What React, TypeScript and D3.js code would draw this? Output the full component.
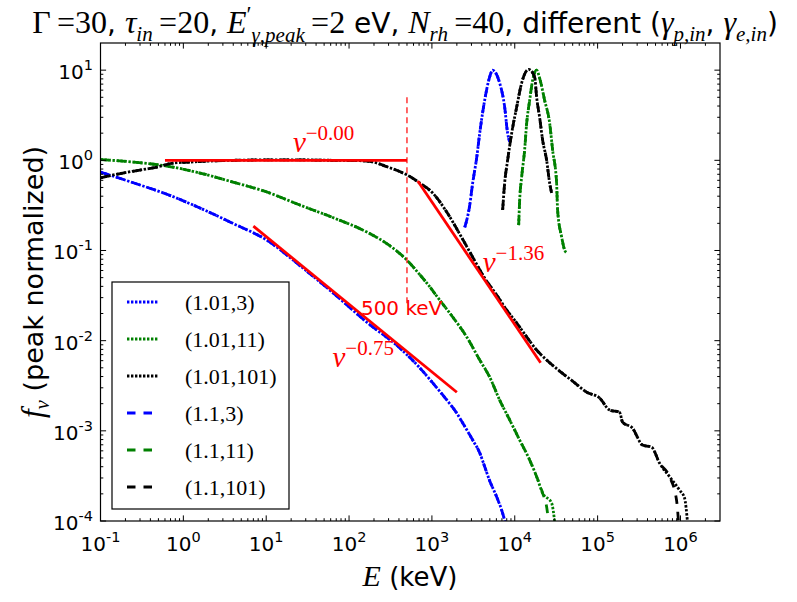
import React from 'react';
import * as d3 from 'd3';

type Pt = [number, number];

// ---------- data (E in keV, f_nu peak normalized) ----------
const blueCont: Pt[] = [[0.1,0.74],[0.254,0.56],[0.634,0.42],[1.585,0.296],[3.96,0.20],[10.2,0.13],[25.5,0.068],[63.7,0.034],[164,0.0160],[409,0.0083],[713,0.0050],[1023,0.0034],[1510,0.0022],[1995,0.00157],[2355,0.00122],[3105,0.00079],[3776,0.00057],[4335,0.0004],[4977,0.00028],[6053,0.000185],[6950,0.000132],[7770,0.000093]];
const bluePeak: Pt[] = [[2490,0.18],[2864,0.32],[3105,0.56],[3467,1.06],[3776,2.0],[4335,4.65],[4977,8.4],[5410,10.0],[5890,9.3],[6577,7.2],[7550,3.9],[8200,2.0],[8690,1.6]];

const greenCont: Pt[] = [[0.1,1.02],[0.247,0.957],[0.634,0.863],[1.585,0.723],[3.96,0.574],[10.2,0.445],[25.5,0.319],[63.7,0.232],[164,0.160],[310,0.113],[497,0.0784],[713,0.054],[867,0.0436],[1242,0.0282],[1782,0.0183],[2630,0.011],[3776,0.0061],[4977,0.00395],[6577,0.00219],[8690,0.00132],[11460,0.00079],[15140,0.000474],[18370,0.00031],[21680,0.000204]];
const greenTailDotted: Pt[] = [[27860,0.000158],[30340,0.000098]];
const greenTailDashed: Pt[] = [[24260,0.000143],[25650,0.000097]];
const greenPeak: Pt[] = [[11150,0.191],[11460,0.362],[12110,0.652],[13150,1.3],[13930,2.59],[15140,4.65],[16440,7.76],[18370,10.0],[19950,8.17],[22910,4.65],[26360,2.59],[28640,1.3],[31990,0.56],[32890,0.281],[36810,0.141],[40000,0.101],[42270,0.094]];

const blackCont: Pt[] = [[0.1,0.64],[0.187,0.723],[0.299,0.78],[0.48,0.842],[0.748,0.932],[1.2,0.957],[2.09,0.981],[3.96,1.0],[10.2,1.01],[25.5,1.01],[63.7,1.0],[135,0.99],[193,0.96],[285,0.85],[409,0.75],[497,0.69],[713,0.56],[1023,0.434],[1510,0.267],[2168,0.152],[3105,0.0845],[4335,0.0494],[6053,0.0321],[8000,0.0218],[10550,0.0157],[13930,0.011],[18370,0.00787],[24260,0.0061],[34760,0.0046],[49900,0.00356],[73600,0.00269],[105700,0.00231],[139600,0.0017],[184000,0.00161],[200000,0.00125],[264000,0.00107],[348000,0.000695],[448000,0.00066],[558000,0.00044],[738000,0.00031]];
const blackTailDotted: Pt[] = [[975000,0.00022],[1120000,0.00018],[1216000,0.000097]];
const blackTailDashed: Pt[] = [[897000,0.00017],[948000,0.000097]];
const blackPeak: Pt[] = [[7145,0.281],[7550,0.56],[8200,1.0],[9180,2.0],[10550,3.9],[12110,7.2],[13520,9.5],[14720,10.2],[17380,8.4],[18370,5.0],[19950,3.0],[21680,1.68],[24260,1.0],[26360,0.56],[27860,0.434]];

const legendLabels = ['(1.01,3)', '(1.01,11)', '(1.01,101)', '(1.1,3)', '(1.1,11)', '(1.1,101)'];
const seriesColors = ['#0000ff', '#008000', '#000000', '#0000ff', '#008000', '#000000'];

// power-law fits: [E start, E end, f at E start, index]
const fitStartE = [0.6, 675, 7];
const fitEndE = [500, 20500, 2000];
const fitStartF = [1.0, 0.589, 0.186];
const fitIndex = [-0.0, -1.36, -0.75];
const fitLabels = ['\u22120.00', '\u22121.36', '\u22120.75'];
const fitLabelE = [21, 4100, 63];
const fitLabelF = [1.24, 0.0577, 0.0051];

const markE = 500;
const markTopF = 5;
const markBottomF = 0.025;
const markLabel = '500 keV';
const markLabelE = 139;
const markLabelF = 0.0192;

const xTickExps = [-1, 0, 1, 2, 3, 4, 5, 6];
const yTickExps = [-4, -3, -2, -1, 0, 1];

// ---------- layout ----------
const W = 797, H = 602;
const PL = 100.5, PR = 720, PT = 43, PB = 521;
const SANS = "'DejaVu Sans', sans-serif";
const SERIF = "'Liberation Serif', 'Times New Roman', serif";

type Tok = { t: string; serif?: boolean; it?: boolean; s: number; sh?: number; dx?: number };

function Rich({ x, y, anchor, toks, fill = '#000', transform }: { x: number; y: number; anchor: string; toks: Tok[]; fill?: string; transform?: string }) {
  let prev = 0;
  return (
    <text x={x} y={y} textAnchor={anchor} fill={fill} transform={transform} style={{ whiteSpace: 'pre' }}>
      {toks.map((tk, i) => {
        const sh = tk.sh || 0;
        const dy = sh - prev;
        prev = sh;
        return (
          <tspan key={i} dy={dy} dx={tk.dx || 0} fontFamily={tk.serif ? SERIF : SANS} fontStyle={tk.it ? 'italic' : 'normal'} fontSize={tk.s}>
            {tk.t}
          </tspan>
        );
      })}
    </text>
  );
}

export default function App() {
  const x = d3.scaleLog().domain([0.1, 3e6]).range([PL, PR]);
  const y = d3.scaleLog().domain([1e-4, 20]).range([PB, PT]);
  const line = d3.line<Pt>().x(d => x(d[0])).y(d => y(d[1])).curve(d3.curveMonotoneX);

  const series = [
    { segs: [blueCont, bluePeak], dash: '2.4,1.6' },
    { segs: [greenCont.concat(greenTailDotted), greenPeak], dash: '2.4,1.6' },
    { segs: [blackCont.concat(blackTailDotted), blackPeak], dash: '2.4,1.6' },
    { segs: [blueCont, bluePeak], dash: '8.5,8' },
    { segs: [greenCont.concat(greenTailDashed), greenPeak], dash: '8.5,8' },
    { segs: [blackCont.concat(blackTailDashed), blackPeak], dash: '8.5,8' },
  ];

  const [xmin, xmax] = x.domain();
  const [ymin, ymax] = y.domain();
  const xMinor: number[] = [];
  for (let k = -1; k <= 6; k++) for (let m = 2; m <= 9; m++) { const v = m * Math.pow(10, k); if (v > xmin && v < xmax) xMinor.push(v); }
  const yMinor: number[] = [];
  for (let k = -4; k <= 1; k++) for (let m = 2; m <= 9; m++) { const v = m * Math.pow(10, k); if (v > ymin && v < ymax) yMinor.push(v); }

  const MAJ = 5.6, MIN = 2.8;

  const TS = 28, TM = 32, TB = 21;
  const title: Tok[] = [
    { t: '\u0393', serif: true, s: TM },
    { t: '\u2009=30', serif: true, s: TM },
    { t: ', ', s: TS },
    { t: '\u03c4', serif: true, it: true, s: TM },
    { t: 'in', serif: true, it: true, s: TB, sh: 8 },
    { t: '\u2009=20', serif: true, s: TM },
    { t: ', ', s: TS },
    { t: 'E', serif: true, it: true, s: TM },
    { t: '\u2032', serif: true, s: 23, sh: -11 },
    { t: '\u03b3,peak', serif: true, it: true, s: TB, sh: 9 },
    { t: '\u2009=2', serif: true, s: TM },
    { t: ' eV, ', s: TS },
    { t: 'N', serif: true, it: true, s: TM },
    { t: 'rh', serif: true, it: true, s: TB, sh: 8 },
    { t: '\u2009=40', serif: true, s: TM },
    { t: ', different (', s: TS },
    { t: '\u03b3', serif: true, it: true, s: TM },
    { t: 'p,in', serif: true, it: true, s: TB, sh: 8 },
    { t: ', ', s: TS },
    { t: '\u03b3', serif: true, it: true, s: TM },
    { t: 'e,in', serif: true, it: true, s: TB, sh: 8 },
    { t: ')', s: TS },
  ];

  const legX = 112, legY = 282, legW = 177, legH = 227, rowH = 37, row0 = 302;

  return (
    <svg width={W} height={H} style={{ position: 'absolute', left: 0, top: 0, background: '#fff' }}>
      <rect x={0} y={0} width={W} height={H} fill="#fff" />
      <defs>
        <clipPath id="plotclip"><rect x={PL} y={PT} width={PR - PL} height={PB - PT} /></clipPath>
      </defs>

      <g clipPath="url(#plotclip)">
        {series.map((s, i) => s.segs.map((seg, j) => (
          <path key={`${i}-${j}`} d={line(seg) || ''} fill="none" stroke={seriesColors[i]} strokeWidth={2.8} strokeDasharray={s.dash} />
        )))}
        {fitStartE.map((e0, i) => {
          const pts: Pt[] = [[e0, fitStartF[i]], [fitEndE[i], fitStartF[i] * Math.pow(fitEndE[i] / e0, fitIndex[i])]];
          return <path key={`fit${i}`} d={d3.line<Pt>().x(d => x(d[0])).y(d => y(d[1]))(pts) || ''} stroke="#ff0000" strokeWidth={2.8} fill="none" />;
        })}
        <line x1={x(markE)} x2={x(markE)} y1={y(markTopF)} y2={y(markBottomF)} stroke="#ff0000" strokeWidth={1.2} strokeDasharray="6,4" />
      </g>

      {fitLabels.map((lab, i) => (
        <Rich key={`fl${i}`} x={x(fitLabelE[i])} y={y(fitLabelF[i])} anchor="start" fill="#ff0000"
          toks={[{ t: '\u03bd', serif: true, it: true, s: 29 }, { t: lab, serif: true, s: 21, sh: -12 }]} />
      ))}
      <text x={x(markLabelE)} y={y(markLabelF)} fill="#ff0000" fontFamily={SANS} fontSize={20}>{markLabel}</text>

      {/* frame */}
      <rect x={PL} y={PT} width={PR - PL} height={PB - PT} fill="none" stroke="#000" strokeWidth={1.2} />

      {/* x ticks */}
      {xTickExps.map(k => {
        const px = x(Math.pow(10, k));
        return (
          <g key={`xt${k}`}>
            <line x1={px} x2={px} y1={PB} y2={PB - MAJ} stroke="#000" strokeWidth={1} />
            <line x1={px} x2={px} y1={PT} y2={PT + MAJ} stroke="#000" strokeWidth={1} />
            <text x={px} y={551} textAnchor="middle" fontFamily={SANS} fill="#000" style={{ whiteSpace: 'pre' }}>
              <tspan fontSize={20}>10</tspan>
              <tspan fontSize={14.5} dy={-9}>{k < 0 ? '-' + Math.abs(k) : String(k)}</tspan>
            </text>
          </g>
        );
      })}
      {xMinor.map((v, i) => {
        const px = x(v);
        return (
          <g key={`xm${i}`}>
            <line x1={px} x2={px} y1={PB} y2={PB - MIN} stroke="#000" strokeWidth={1} />
            <line x1={px} x2={px} y1={PT} y2={PT + MIN} stroke="#000" strokeWidth={1} />
          </g>
        );
      })}

      {/* y ticks */}
      {yTickExps.map(k => {
        const py = y(Math.pow(10, k));
        return (
          <g key={`yt${k}`}>
            <line x1={PL} x2={PL + MAJ} y1={py} y2={py} stroke="#000" strokeWidth={1} />
            <line x1={PR} x2={PR - MAJ} y1={py} y2={py} stroke="#000" strokeWidth={1} />
            <text x={93} y={py + 9} textAnchor="end" fontFamily={SANS} fill="#000" style={{ whiteSpace: 'pre' }}>
              <tspan fontSize={20}>10</tspan>
              <tspan fontSize={14.5} dy={-9}>{k < 0 ? '-' + Math.abs(k) : String(k)}</tspan>
            </text>
          </g>
        );
      })}
      {yMinor.map((v, i) => {
        const py = y(v);
        return (
          <g key={`ym${i}`}>
            <line x1={PL} x2={PL + MIN} y1={py} y2={py} stroke="#000" strokeWidth={1} />
            <line x1={PR} x2={PR - MIN} y1={py} y2={py} stroke="#000" strokeWidth={1} />
          </g>
        );
      })}

      {/* legend */}
      <rect x={legX} y={legY} width={legW} height={legH} fill="#fff" stroke="#000" strokeWidth={1.2} />
      {legendLabels.map((lab, i) => {
        const ry = row0 + i * rowH;
        return (
          <g key={`lg${i}`}>
            <line x1={127} x2={158} y1={ry} y2={ry} stroke={seriesColors[i]} strokeWidth={2.8} strokeDasharray={series[i].dash} />
            <text x={185} y={ry + 8} fontFamily={SERIF} fontSize={22} fill="#000">{lab}</text>
          </g>
        );
      })}

      {/* title */}
      <Rich x={405} y={33} anchor="middle" toks={title} />

      {/* axis labels */}
      <Rich x={410} y={586} anchor="middle" toks={[{ t: 'E', serif: true, it: true, s: 30 }, { t: ' (keV)', s: 26 }]} />
      <Rich x={0} y={0} anchor="middle" transform="translate(43,282) rotate(-90)"
        toks={[{ t: 'f', serif: true, it: true, s: 31 }, { t: '\u03bd', serif: true, it: true, s: 21, sh: 6 }, { t: ' (peak normalized)', s: 27, sh: 0 }]} />
    </svg>
  );
}
